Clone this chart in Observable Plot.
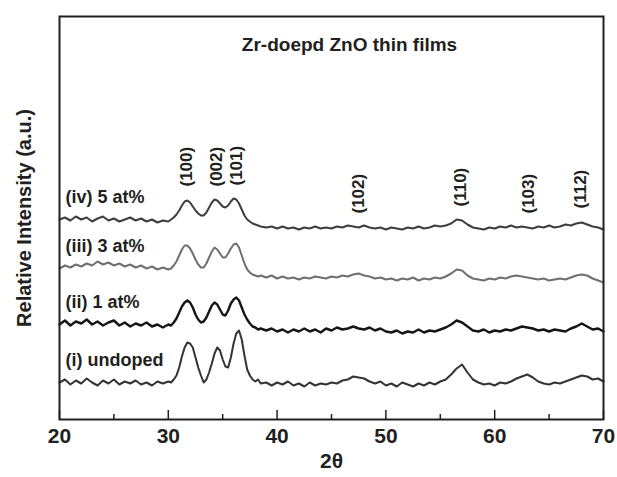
<!DOCTYPE html>
<html><head><meta charset="utf-8">
<script src="https://cdn.jsdelivr.net/npm/d3@7"></script>
<script src="https://cdn.jsdelivr.net/npm/@observablehq/plot@0.6"></script>
<style>body{margin:0;background:#fff}</style>
</head><body><div id="chart"></div>
<script>
// 2θ sampling (degrees)
const twoTheta = [20,20.5,21,21.5,22,22.5,23,23.5,24,24.5,25,25.5,26,26.5,27,27.5,28,28.5,29,29.5,30,
30.25,30.5,30.75,31,31.25,31.5,31.75,32,32.25,32.5,32.75,33,33.25,33.5,33.75,34,34.25,34.5,34.75,35,35.25,35.5,35.75,36,36.25,36.5,36.75,37,37.25,37.5,37.75,38,38.25,38.5,
39,39.5,40,40.5,41,41.5,42,42.5,43,43.5,44,44.5,45,45.5,46,46.5,47,47.5,48,48.5,49,49.5,50,50.5,51,51.5,52,52.5,53,53.5,54,54.5,55,55.5,56,56.5,57,57.5,58,58.5,59,59.5,60,60.5,61,61.5,62,62.5,63,63.5,64,64.5,65,65.5,66,66.5,67,67.5,68,68.5,69,69.5,70];

// Relative intensity (a.u., stacked as in the figure)
const undoped = [37,40,35,39,36,41,37,34,39,36,40,35,38,36,39,35,37,34,38,36,38,
37,40,44,52,63,72,77,76,72,62,52,44,37,40,47,56,66,72,69,60,53,52,62,76,86,89,80,64,50,44,40,38,40,36,
37,34,37,35,38,34,36,33,37,34,36,35,37,36,39,40,43,42,41,38,36,38,34,36,33,37,35,33,36,34,37,35,38,40,45,51,55,47,40,37,35,36,34,37,36,38,41,43,45,42,38,36,35,37,36,38,40,42,44,43,40,41,38];
const at1 = [95,99,94,98,96,100,95,98,94,97,99,94,97,93,96,94,97,93,95,92,95,
94,97,101,107,113,117,119,117,112,105,100,97,98,102,108,114,117,115,110,105,104,109,116,120,122,119,112,105,100,96,93,92,90,91,
89,91,88,90,87,90,88,91,88,90,87,91,89,92,90,91,93,91,90,92,89,91,88,87,89,86,88,87,90,87,89,88,90,92,95,99,97,93,89,88,90,87,89,88,90,89,91,93,92,91,89,90,88,90,89,88,91,93,96,93,90,91,88];
const at3 = [151,154,152,155,153,156,154,158,155,157,154,156,153,155,152,154,151,153,150,152,150,
151,154,158,164,170,174,174,171,166,160,155,152,152,156,162,168,172,170,166,162,162,166,171,175,176,172,164,156,150,147,145,144,143,144,
142,144,141,143,141,142,140,142,141,143,142,141,143,142,144,143,145,146,144,143,141,142,140,141,139,141,140,142,139,141,140,142,141,143,146,150,149,144,141,140,139,141,140,142,141,143,144,143,142,141,140,141,139,140,141,140,142,144,145,144,141,139,137];
const at5 = [200,202,199,203,200,202,198,201,203,199,201,198,200,202,199,201,198,200,197,199,198,
200,202,205,209,214,218,219,217,213,209,206,204,204,207,212,217,220,219,216,213,212,214,218,221,220,216,210,204,200,198,196,195,194,193,
192,193,191,193,191,192,190,192,191,193,191,192,191,193,192,194,193,192,194,192,191,192,190,192,191,190,192,191,193,191,192,194,193,194,196,200,199,195,192,191,190,192,191,193,192,194,192,193,192,191,193,192,194,192,193,195,194,196,197,195,193,192,190];

const seriesNames = ["(i) undoped", "(ii) 1 at%", "(iii) 3 at%", "(iv) 5 at%"];
const seriesColors = ["#333333", "#151515", "#6f6f6f", "#3d3d3d"];
const hklLabels = ["(100)", "(002)", "(101)", "(102)", "(110)", "(103)", "(112)"];
const hklAngles = [31.7, 34.4, 36.25, 47.5, 56.9, 63.1, 67.9];
const xTicks = [20, 30, 40, 50, 60, 70];
const xMinorTicks = [25, 35, 45, 55, 65];
const titleText = "Zr-doepd ZnO thin films";
const xLabel = "2θ";
const yLabel = "Relative Intensity (a.u.)";

const allSeries = [undoped, at1, at3, at5];
const lines = allSeries.map((vals, i) =>
  Plot.line(twoTheta.map((t, j) => ({t, v: vals[j]})), {
    x: "t", y: "v", stroke: seriesColors[i], strokeWidth: i === 1 ? 2.4 : 2
  })
);
const nearest = a => d3.minIndex(twoTheta, t => Math.abs(t - a));
const hklData = hklLabels.map((label, i) => ({label, x: hklAngles[i], y: at5[nearest(hklAngles[i])]}));
const seriesLabelData = seriesNames.map((name, i) => ({name, x: twoTheta[0], y: allSeries[i][0]}));

const ink = "#231f20";
const chart = Plot.plot({
  width: 617, height: 477,
  marginLeft: 59, marginRight: 14, marginTop: 16, marginBottom: 58,
  style: {fontFamily: "'Liberation Sans', Arial, sans-serif", color: ink, background: "#fff"},
  x: {domain: [20, 70], axis: null},
  y: {domain: [0, 403], axis: null},
  marks: [
    ...lines,
    Plot.frame({stroke: ink, strokeWidth: 2}),
    Plot.axisX({ticks: xTicks, tickSize: -9, tickFormat: () => "", label: null, stroke: ink, strokeWidth: 1.5}),
    Plot.axisX({ticks: xMinorTicks, tickSize: -5, tickFormat: () => "", label: null, stroke: ink, strokeWidth: 1.5}),
    Plot.axisX({ticks: xTicks, tickSize: 0, tickPadding: 9, fontSize: 21, fontWeight: "bold", label: null, fill: ink}),
    Plot.text([xLabel], {text: d => d, frameAnchor: "bottom", dy: 48, fontSize: 21, fontWeight: "bold", fill: ink}),
    Plot.text([yLabel], {text: d => d, frameAnchor: "left", textAnchor: "middle", lineAnchor: "middle", rotate: -90, dx: -35, fontSize: 20, fontWeight: "bold", fill: ink}),
    Plot.text([titleText], {text: d => d, frameAnchor: "top", dx: 18, dy: 21, fontSize: 19, fontWeight: "bold", fill: ink}),
    Plot.text(hklData, {x: "x", y: "y", text: "label", rotate: -90, textAnchor: "start", dy: -14, fontSize: 17, fontWeight: "bold", fill: ink}),
    Plot.text(seriesLabelData, {x: "x", y: "y", text: "name", textAnchor: "start", dx: 6, dy: -22, fontSize: 18, fontWeight: "bold", fill: ink})
  ]
});
document.getElementById("chart").appendChild(chart);
</script>
</body></html>
